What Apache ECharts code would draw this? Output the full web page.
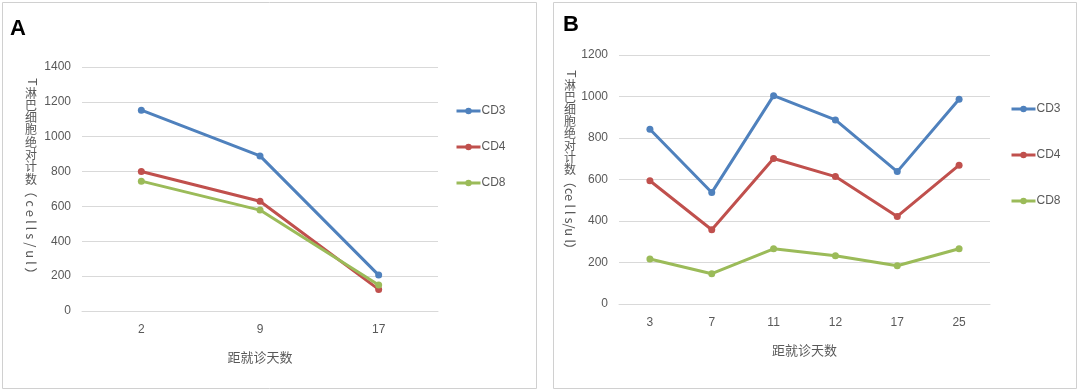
<!DOCTYPE html>
<html>
<head>
<meta charset="utf-8">
<script src="https://cdn.jsdelivr.net/npm/echarts@6/dist/echarts.min.js"></script>
<style>
html,body{margin:0;padding:0;background:#fff;}
#c{width:1080px;height:391px;}
</style>
</head>
<body>
<div id="c"></div>
<script>
// ---- data ----
var daysA = ['2', '9', '17'];
var cd3A = [1152, 890, 206];
var cd4A = [800, 630, 124];
var cd8A = [745, 579, 149];

var daysB = ['3', '7', '11', '12', '17', '25'];
var cd3B = [842, 537, 1004, 887, 638, 987];
var cd4B = [594, 358, 701, 614, 422, 669];
var cd8B = [217, 146, 266, 233, 184, 266];

var seriesNames = ['CD3', 'CD4', 'CD8'];
var xTitle = '距就诊天数';
var yTitleLead = 'T';
var yTitleCJK = '淋巴细胞绝对计数';
var panelLabels = ['A', 'B'];

// ---- chart ----
var colors = ['#4F81BD', '#C0504D', '#9BBB59'];
var FONT = "'Liberation Sans Narrow','Liberation Sans','Noto Sans CJK SC',sans-serif";
var CJK = "'Noto Sans CJK SC',sans-serif";
var textColor = '#595959';

function yTitle(cx, topY, pitch, unitText) {
  var chars = yTitleCJK.split('');
  var els = [];
  els.push({type: 'text', x: cx, y: topY, rotation: -Math.PI / 2,
    style: {text: yTitleLead, fontSize: 12, fontFamily: FONT, fill: textColor, align: 'center', verticalAlign: 'middle'}});
  for (var i = 0; i < chars.length; i++) {
    els.push({type: 'text', x: cx, y: topY + 11 + i * pitch,
      style: {text: chars[i], fontSize: 12, fontFamily: CJK, fill: textColor, align: 'center', verticalAlign: 'middle'}});
  }
  els.push({type: 'text', x: cx, y: topY + 4 + chars.length * pitch, rotation: -Math.PI / 2,
    style: {text: unitText, fontSize: 13, fontFamily: CJK, fill: textColor, align: 'left', verticalAlign: 'middle'}});
  return els;
}

function mkX(idx, data) {
  return {
    type: 'category', gridIndex: idx, data: data, boundaryGap: true,
    axisLine: {show: true, lineStyle: {color: '#d9d9d9', width: 1}},
    axisTick: {show: false},
    axisLabel: {color: textColor, fontSize: 12, fontFamily: FONT, margin: 13},
    name: xTitle, nameLocation: 'middle', nameGap: 40,
    nameTextStyle: {color: textColor, fontSize: 13, fontFamily: CJK}
  };
}
function mkY(idx, max) {
  return {
    type: 'value', gridIndex: idx, min: 0, max: max, interval: 200,
    axisLine: {show: false}, axisTick: {show: false},
    axisLabel: {color: textColor, fontSize: 12, fontFamily: FONT, margin: 11,
      formatter: function (v) { return String(v); }},
    splitLine: {lineStyle: {color: '#d9d9d9', width: 1}}
  };
}
function mkS(name, data, idx, color) {
  return {
    type: 'line', name: name, xAxisIndex: idx, yAxisIndex: idx, data: data,
    symbol: 'circle', symbolSize: 7, showSymbol: true,
    itemStyle: {color: color}, lineStyle: {color: color, width: 3},
    emphasis: {disabled: true}, animation: false
  };
}

var chart = echarts.init(document.getElementById('c'), null, {renderer: 'canvas'});
var graphic = [
  {type: 'rect', shape: {x: 2.5, y: 2.5, width: 534, height: 386}, style: {fill: 'none', stroke: '#d0d0d0', lineWidth: 1}},
  {type: 'rect', shape: {x: 553.5, y: 2.5, width: 523, height: 386}, style: {fill: 'none', stroke: '#d0d0d0', lineWidth: 1}},
  {type: 'text', x: 18, y: 29, style: {text: panelLabels[0], fontSize: 22, fontWeight: 'bold', fontFamily: '"Liberation Sans",sans-serif', fill: '#000', align: 'center', verticalAlign: 'middle'}},
  {type: 'text', x: 571, y: 25, style: {text: panelLabels[1], fontSize: 22, fontWeight: 'bold', fontFamily: '"Liberation Sans",sans-serif', fill: '#000', align: 'center', verticalAlign: 'middle'}}
].concat(yTitle(31, 82, 12.3, '（ c e l l s / u l ）')).concat(yTitle(570, 74, 12.1, '（ce l l s/u l）'));

chart.setOption({
  backgroundColor: '#fff',
  animation: false,
  graphic: graphic,
  grid: [
    {left: 82, top: 67, width: 356, height: 244},
    {left: 619, top: 55, width: 371, height: 249}
  ],
  xAxis: [mkX(0, daysA), mkX(1, daysB)],
  yAxis: [mkY(0, 1400), mkY(1, 1200)],
  legend: [
    {orient: 'vertical', left: 455, top: 105, padding: 0, itemGap: 24, itemWidth: 24, itemHeight: 8,
     lineStyle: {width: 3},
     data: seriesNames, textStyle: {color: textColor, fontSize: 12, fontFamily: FONT, padding: [0, 0, 0, -4]}},
    {orient: 'vertical', left: 1010, top: 103, padding: 0, itemGap: 34, itemWidth: 24, itemHeight: 8,
     lineStyle: {width: 3},
     data: seriesNames, textStyle: {color: textColor, fontSize: 12, fontFamily: FONT, padding: [0, 0, 0, -4]}}
  ],
  series: [
    mkS(seriesNames[0], cd3A, 0, colors[0]),
    mkS(seriesNames[1], cd4A, 0, colors[1]),
    mkS(seriesNames[2], cd8A, 0, colors[2]),
    mkS(seriesNames[0], cd3B, 1, colors[0]),
    mkS(seriesNames[1], cd4B, 1, colors[1]),
    mkS(seriesNames[2], cd8B, 1, colors[2])
  ]
});
</script>
</body>
</html>
